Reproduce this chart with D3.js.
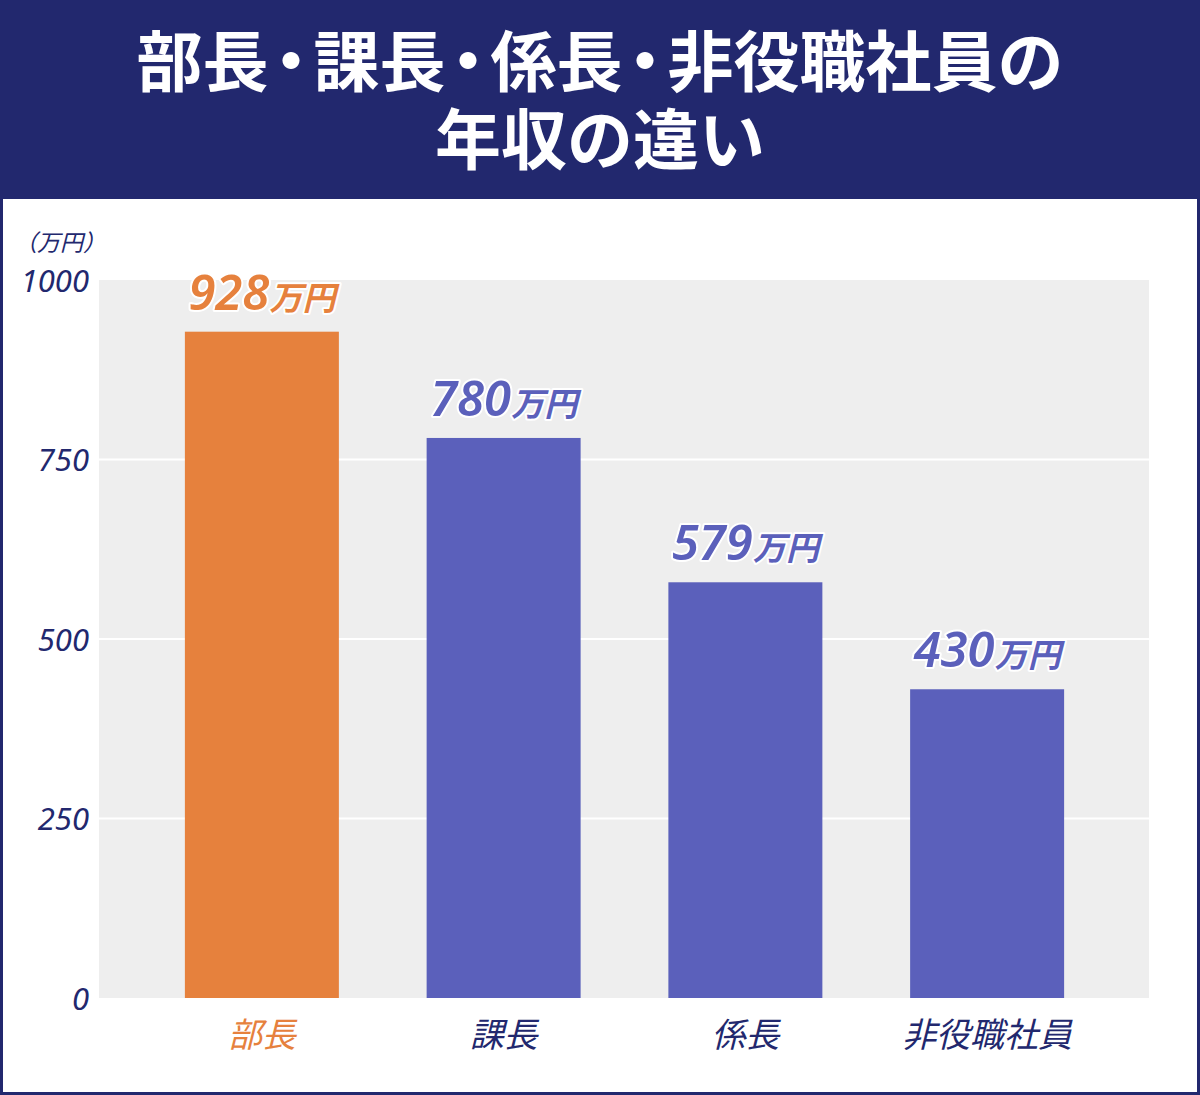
<!DOCTYPE html>
<html>
<head>
<meta charset="utf-8">
<script src="https://cdn.jsdelivr.net/npm/d3@7"></script>
<style>
  body { margin: 0; background: #ffffff; }
  svg { display: block; font-family: "Noto Sans CJK JP", "Noto Sans", sans-serif; }
</style>
</head>
<body>
<div id="chart"></div>
<script>
const titleLines = ['部長・課長・係長・非役職社員の', '年収の違い'];
const categories = ['部長', '課長', '係長', '非役職社員'];
const values = [928, 780, 579, 430];
const yTicks = [0, 250, 500, 750, 1000];
const unitLabel = '（万円）';
const valueUnit = '万円';

const navy = '#22286e';
const orange = '#e6813d';
const purple = '#5b60bb';

const width = 1200, height = 1095;

const svg = d3.select('#chart')
  .append('svg')
  .attr('width', width)
  .attr('height', height);

// frame + header
svg.append('rect')
  .attr('x', 1.5).attr('y', 1.5)
  .attr('width', width - 3).attr('height', height - 3)
  .attr('fill', '#ffffff')
  .attr('stroke', navy)
  .attr('stroke-width', 3);

svg.append('rect')
  .attr('x', 0).attr('y', 0)
  .attr('width', width).attr('height', 199)
  .attr('fill', navy);

// title: middle dots set half width (halt) with a little air around them
const titles = svg.selectAll('.title')
  .data(titleLines)
  .enter()
  .append('text')
  .attr('class', 'title')
  .attr('x', width / 2)
  .attr('y', (d, i) => 62 + i * 78)
  .attr('dy', '0.36em')
  .attr('text-anchor', 'middle')
  .attr('fill', '#ffffff')
  .attr('font-size', 66)
  .attr('font-weight', 700);

titles.selectAll('tspan')
  .data(d => d.split(/(・)/).filter(s => s.length))
  .enter()
  .append('tspan')
  .attr('dx', d => d === '・' ? 6 : null)
  .attr('letter-spacing', d => d === '・' ? 6 : null)
  .style('font-feature-settings', d => d === '・' ? '"halt"' : null)
  .text(d => d);

// plot area
const plot = { left: 99, right: 1149, top: 280, bottom: 998 };

const y = d3.scaleLinear()
  .domain([0, 1000])
  .range([plot.bottom, plot.top]);

const x = d3.scaleBand()
  .domain(categories)
  .range([141, 1108])
  .paddingInner(0.363)
  .paddingOuter(0.1815);

svg.append('rect')
  .attr('x', plot.left).attr('y', plot.top)
  .attr('width', plot.right - plot.left)
  .attr('height', plot.bottom - plot.top)
  .attr('fill', '#eeeeee');

svg.append('g')
  .selectAll('line')
  .data(yTicks.filter(t => t > 0 && t < 1000))
  .enter()
  .append('line')
  .attr('x1', plot.left).attr('x2', plot.right)
  .attr('y1', d => y(d)).attr('y2', d => y(d))
  .attr('stroke', '#ffffff')
  .attr('stroke-width', 2);

// y axis
const yAxis = svg.append('g')
  .attr('transform', `translate(${plot.left - 10},0)`)
  .call(d3.axisLeft(y).tickValues(yTicks).tickFormat(d3.format('d')).tickSize(0).tickPadding(0));

yAxis.select('.domain').remove();
yAxis.selectAll('text')
  .attr('fill', navy)
  .attr('font-size', 31)
  .attr('font-style', 'italic')
  .attr('font-family', '"Noto Sans", sans-serif')
  .attr('dy', '0.36em');

svg.append('text')
  .attr('x', 14)
  .attr('y', 243)
  .attr('dy', '0.36em')
  .attr('fill', navy)
  .attr('font-size', 23)
  .attr('font-style', 'italic')
  .text(unitLabel);

// bars
svg.append('g')
  .selectAll('rect')
  .data(values)
  .enter()
  .append('rect')
  .attr('x', (d, i) => x(categories[i]))
  .attr('y', d => y(d))
  .attr('width', x.bandwidth())
  .attr('height', d => y(0) - y(d))
  .attr('fill', (d, i) => i === 0 ? orange : purple);

// value labels
const labels = svg.append('g')
  .selectAll('text')
  .data(values)
  .enter()
  .append('text')
  .attr('x', (d, i) => x(categories[i]) + x.bandwidth() / 2)
  .attr('y', d => y(d) - 22)
  .attr('text-anchor', 'middle')
  .attr('fill', (d, i) => i === 0 ? orange : purple)
  .attr('stroke', '#ffffff')
  .attr('stroke-width', 4)
  .attr('stroke-linejoin', 'round')
  .attr('paint-order', 'stroke')
  .attr('font-style', 'italic')
  .attr('font-weight', 600);

labels.append('tspan')
  .attr('font-size', 49)
  .attr('font-family', '"Noto Sans", sans-serif')
  .text(d => d);

labels.append('tspan')
  .attr('font-size', 33)
  .text(valueUnit);

// x labels
svg.append('g')
  .selectAll('text')
  .data(categories)
  .enter()
  .append('text')
  .attr('x', d => x(d) + x.bandwidth() / 2)
  .attr('y', 1035)
  .attr('dy', '0.36em')
  .attr('text-anchor', 'middle')
  .attr('fill', (d, i) => i === 0 ? orange : navy)
  .attr('font-size', 34)
  .attr('font-style', 'italic')
  .text(d => d);
</script>
</body>
</html>
